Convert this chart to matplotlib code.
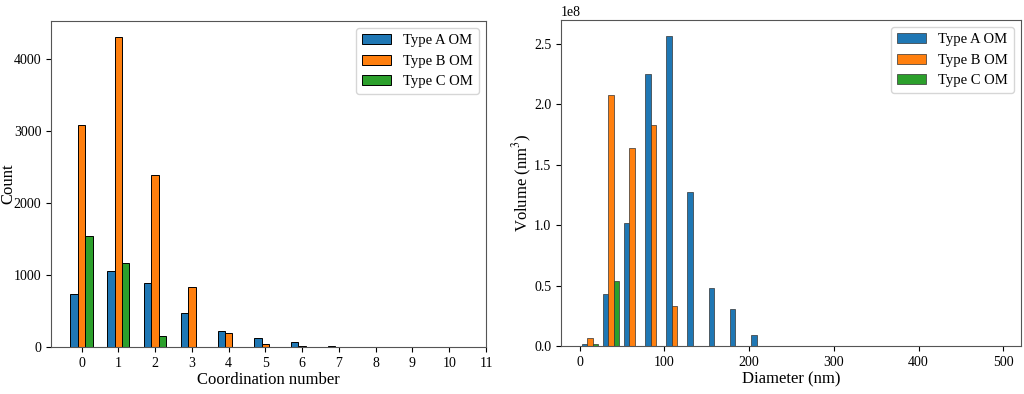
import numpy as np
import matplotlib
matplotlib.use("Agg")
import matplotlib.pyplot as plt

plt.rcParams["font.family"] = ["Liberation Serif", "DejaVu Serif"]
plt.rcParams["mathtext.fontset"] = "stix"

# Left panel: coordination number counts
coord_numbers = list(range(11))
count_a = [736, 1060, 884, 477, 227, 125, 65, 18, 5, 3, 2]
count_b = [3083, 4315, 2389, 829, 199, 46, 18, 5, 2, 1, 1]
count_c = [1546, 1162, 148, 5, 0, 0, 0, 0, 0, 0, 0]

# Right panel: volume per diameter bin (25 nm bins)
diameter_centers = list(range(12, 500, 25))
volume_a = [0.014, 0.43, 1.02, 2.25, 2.566, 1.27, 0.48, 0.31, 0.093,
            0, 0, 0, 0, 0, 0, 0, 0, 0, 0, 0]
volume_b = [0.066, 2.077, 1.64, 1.83, 0.33,
            0, 0, 0, 0, 0, 0, 0, 0, 0, 0, 0, 0, 0, 0, 0]
volume_c = [0.02, 0.536,
            0, 0, 0, 0, 0, 0, 0, 0, 0, 0, 0, 0, 0, 0, 0, 0, 0, 0]

labels = ["Type A OM", "Type B OM", "Type C OM"]
colors = ["#1f77b4", "#ff7f0e", "#2ca02c"]

fig = plt.figure(figsize=(10.24, 3.94), dpi=100)
ax1 = fig.add_axes([0.0498, 0.1193, 0.4248, 0.8274])
ax2 = fig.add_axes([0.5479, 0.1218, 0.4492, 0.8274])

# left: grouped bars
w = 0.2
x = np.array(coord_numbers)
for i, (vals, lab, col) in enumerate(zip([count_a, count_b, count_c], labels, colors)):
    ax1.bar(x + (i - 1.5) * w + w / 2, vals, width=w, color=col,
            edgecolor="black", linewidth=0.7, label=lab)
ax1.set_xticks(range(12))
ax1.set_xlabel("Coordination number", fontsize=12, labelpad=2)
ax1.set_ylabel("Count", fontsize=12, labelpad=-2)
ax1.legend(loc="upper right", fontsize=10.5)

# right: grouped bars per diameter bin
w2 = 6.5
xd = np.array(diameter_centers)
for i, (vals, lab, col) in enumerate(zip([volume_a, volume_b, volume_c], labels, colors)):
    ax2.bar(xd + (i - 1) * w2, np.array(vals) * 1e8, width=w2, color=col,
            edgecolor="#333333", linewidth=0.5, label=lab)
ax2.set_xlim(-22, 521)
ax2.set_xlabel("Diameter (nm)", fontsize=12, labelpad=2)
ax2.set_ylabel("Volume (nm$^3$)", fontsize=12, labelpad=0)
ax2.legend(loc="upper right", fontsize=10.5)

for ax in (ax1, ax2):
    ax.tick_params(labelsize=10)
    for s in ax.spines.values():
        s.set_color("#555555")

fig.savefig("out.png", dpi=100)
